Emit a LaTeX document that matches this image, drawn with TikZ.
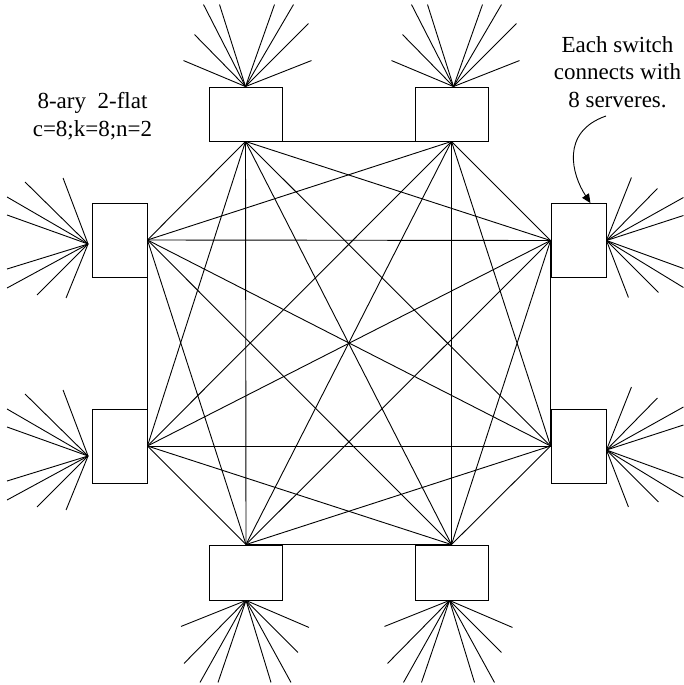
\documentclass[tikz,border=0pt]{standalone}
\usepackage{fontspec}
\setmainfont{Liberation Serif}
\usetikzlibrary{arrows.meta}
\begin{document}
\begin{tikzpicture}[x=1pt,y=-1pt,
  wire/.style={line width=0.9pt, black},
  hbox/.style={draw, line width=0.9pt, minimum width=73pt, minimum height=54pt, inner sep=0pt},
  vbox/.style={draw, line width=0.9pt, minimum width=55pt, minimum height=74pt, inner sep=0pt},
  label/.style={font=\fontsize{23}{27.5}\selectfont, align=center, inner sep=0pt}]
\useasboundingbox (0,0) rectangle (683,685);
% switches
\node[hbox] (TL) at (245.5,114) {};
\node[hbox] (TR) at (451.5,114) {};
\node[vbox] (L1) at (119.5,240) {};
\node[vbox] (L2) at (119.5,446) {};
\node[vbox] (R1) at (578.5,240.5) {};
\node[vbox] (R2) at (578.5,446) {};
\node[hbox, minimum height=55pt] (B1) at (246,572.5) {};
\node[hbox, minimum height=55pt] (B2) at (451.5,572.5) {};
% mesh points
\coordinate (m1) at (TL.south);
\coordinate (m2) at (TR.south);
\coordinate (m3) at (R1.west);
\coordinate (m4) at (R2.west);
\coordinate (m5) at (B2.north);
\coordinate (m6) at (B1.north);
\coordinate (m7) at (L2.east);
\coordinate (m8) at (L1.east);
\foreach \i in {1,...,7}{
  \pgfmathtruncatemacro\s{\i+1}
  \foreach \j in {\s,...,8}{
    \draw[wire] (m\i) -- (m\j);
  }
}
% fan points
\coordinate (fTL) at (TL.north);
\coordinate (fTR) at ([xshift=2pt]TR.north);
\coordinate (fL1) at ([xshift=-3.5pt,yshift=-4pt]L1.west);
\coordinate (fL2) at ([xshift=-3.5pt,yshift=-10pt]L2.west);
\coordinate (fR1) at (R1.east);
\coordinate (fR2) at ([yshift=-4pt]R2.east);
\coordinate (fB1) at (B1.south);
\coordinate (fB2) at ([xshift=-2pt]B2.south);
% server links
\foreach \f in {fTL,fTR}{
  \foreach \dx/\dy in {-62/-26,-51/-52,-42/-82,-26/-82,29/-82,48/-82,63/-63,66/-26}
    \draw[wire] (\f) -- ++(\dx,\dy);
}
\foreach \f in {fB1,fB2}{
  \foreach \dx/\dy in {-65/26,-62/63,-46/82,-28/82,25/82,45/82,52/52,63/27}
    \draw[wire] (\f) -- ++(\dx,\dy);
}
\foreach \f in {fL1,fL2}{
  \foreach \dx/\dy in {-81/-29,-81/-47,-63/-62,-25/-66,-81/25,-81/44,-51/51,-22/54}
    \draw[wire] (\f) -- ++(\dx,\dy);
}
\foreach \f in {fR1,fR2}{
  \foreach \dx/\dy in {25/-63,51/-52,77/-43,77/-25,77/28,77/47,52/52,22/57}
    \draw[wire] (\f) -- ++(\dx,\dy);
}
% labels
\node[label] (t1) at (92.5,116) {8-ary~~2-flat\\c=8;k=8;n=2};
\node[label] (t2) at (617.5,72) {Each switch\\connects with\\8 serveres.};
\coordinate (astart) at (606,116);
\draw[wire, -{Triangle[length=9pt,width=8pt]}] (astart) .. controls (560,132) and (572,175) .. ([xshift=-16pt]R1.north east);
\end{tikzpicture}
\end{document}
